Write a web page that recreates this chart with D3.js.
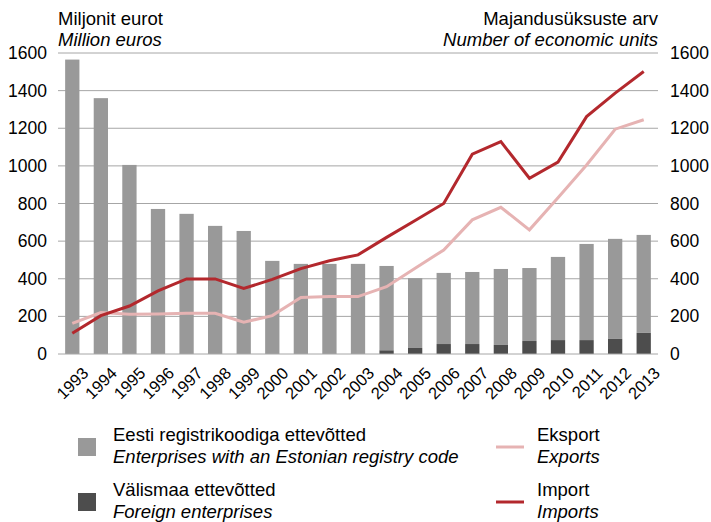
<!DOCTYPE html>
<html>
<head>
<meta charset="utf-8">
<script src="https://cdn.jsdelivr.net/npm/d3@7"></script>
<style>
  body { margin: 0; background: #fff; }
  text { font-family: "Liberation Sans", Arial, sans-serif; fill: #000; }
</style>
</head>
<body>
<div id="chart"></div>
<script>
const years = ['1993','1994','1995','1996','1997','1998','1999','2000','2001','2002','2003',
  '2004','2005','2006','2007','2008','2009','2010','2011','2012','2013'];
// number of economic units
const foreign = [0,0,0,0,0,0,0,0,0,0,0,20,32,53,53,48,69,74,74,80,112];
const estonian = [1565,1360,1005,771,745,681,654,495,479,479,479,448,371,378,383,404,388,442,511,532,521];
// million euros
const exportVals = [163,220,211,213,216,216,169,204,300,305,305,358,456,553,713,780,660,830,1005,1195,1245];
const importVals = [110,204,255,335,399,399,348,397,454,496,527,620,710,800,1062,1129,934,1020,1262,1387,1502];
const yTicks = [0,200,400,600,800,1000,1200,1400,1600];

let w = 711, h = 522;
let mLeft = 58, mRight = 658, mTop = 53, mBottom = 354;

let svg = d3.select('#chart')
  .append('svg')
  .attr('width', w)
  .attr('height', h)

let x = d3.scaleBand().domain(years).range([mLeft, mRight]).paddingInner(0.5).paddingOuter(0.25)
let yL = d3.scaleLinear().domain([0, 1600]).range([mBottom, mTop])
let yR = d3.scaleLinear().domain([0, 1600]).range([mBottom, mTop])

// gridlines
svg.append('g')
  .selectAll('line')
  .data(yTicks.slice(1))
  .join('line')
  .attr('x1', mLeft).attr('x2', mRight)
  .attr('y1', d => yL(d)).attr('y2', d => yL(d))
  .attr('stroke', '#a6a6a6')
  .attr('stroke-width', 1)

// stacked bars
let stack = d3.stack().keys(['foreign', 'estonian'])
let rows = years.map((yr, i) => ({year: yr, foreign: foreign[i], estonian: estonian[i]}))
let colors = {foreign: '#4d4d4d', estonian: '#999999'}
svg.append('g')
  .selectAll('g')
  .data(stack(rows))
  .join('g')
  .attr('fill', d => colors[d.key])
  .selectAll('rect')
  .data(d => d)
  .join('rect')
  .attr('x', d => x(d.data.year))
  .attr('width', x.bandwidth())
  .attr('y', d => yR(d[1]))
  .attr('height', d => yR(d[0]) - yR(d[1]))

// baseline
svg.append('line')
  .attr('x1', mLeft).attr('x2', mRight)
  .attr('y1', mBottom).attr('y2', mBottom)
  .attr('stroke', '#a6a6a6')

let line = d3.line()
  .x((d, i) => x(years[i]) + x.bandwidth() / 2)
  .y(d => yL(d))

svg.append('path')
  .datum(exportVals)
  .attr('d', line)
  .attr('fill', 'none')
  .attr('stroke', '#e6b3b3')
  .attr('stroke-width', 3)

svg.append('path')
  .datum(importVals)
  .attr('d', line)
  .attr('fill', 'none')
  .attr('stroke', '#b3282d')
  .attr('stroke-width', 3)

// left axis
let axL = svg.append('g')
  .attr('transform', `translate(${mLeft},0)`)
  .call(d3.axisLeft(yL).tickValues(yTicks).tickFormat(d3.format('d')).tickSize(0).tickPadding(11))
axL.select('.domain').remove()
axL.selectAll('text').style('font-size', '17.5px').style('font-family', '"Liberation Sans", Arial, sans-serif')

// right axis
let axR = svg.append('g')
  .attr('transform', `translate(${mRight},0)`)
  .call(d3.axisRight(yR).tickValues(yTicks).tickFormat(d3.format('d')).tickSize(0).tickPadding(12))
axR.select('.domain').remove()
axR.selectAll('text').style('font-size', '17.5px').style('font-family', '"Liberation Sans", Arial, sans-serif')

// x labels
svg.append('g')
  .selectAll('text')
  .data(years)
  .join('text')
  .attr('text-anchor', 'end')
  .attr('transform', d => `translate(${x(d) + x.bandwidth() / 2 + 9},${mBottom + 12}) rotate(-45)`)
  .attr('dy', '0.7em')
  .style('font-size', '16.5px')
  .text(d => d)

// axis titles
svg.append('text').attr('x', mLeft).attr('y', 25).style('font-size', '18.5px').text('Miljonit eurot')
svg.append('text').attr('x', mLeft).attr('y', 46).style('font-size', '18.5px').style('font-style', 'italic').text('Million euros')
svg.append('text').attr('x', mRight).attr('y', 25).attr('text-anchor', 'end').style('font-size', '18.5px').text('Majandusüksuste arv')
svg.append('text').attr('x', mRight).attr('y', 46).attr('text-anchor', 'end').style('font-size', '18.5px').style('font-style', 'italic').text('Number of economic units')

// legend
let legend = svg.append('g')
function legendText(xp, yp, txt, italic) {
  legend.append('text')
    .attr('x', xp).attr('y', yp)
    .style('font-size', '18.5px')
    .style('font-style', italic ? 'italic' : 'normal')
    .text(txt)
}
let boxes = [
  {fill: '#999999', y: 438, et: 'Eesti registrikoodiga ettevõtted', en: 'Enterprises with an Estonian registry code'},
  {fill: '#4d4d4d', y: 493, et: 'Välismaa ettevõtted', en: 'Foreign enterprises'}
]
boxes.forEach(b => {
  legend.append('rect').attr('x', 78).attr('y', b.y).attr('width', 18).attr('height', 18).attr('fill', b.fill)
  legendText(113, b.y + 3, b.et, false)
  legendText(113, b.y + 25, b.en, true)
})
let lines = [
  {stroke: '#e6b3b3', y: 447, et: 'Eksport', en: 'Exports'},
  {stroke: '#b3282d', y: 502, et: 'Import', en: 'Imports'}
]
lines.forEach(l => {
  legend.append('line').attr('x1', 496).attr('x2', 524).attr('y1', l.y).attr('y2', l.y)
    .attr('stroke', l.stroke).attr('stroke-width', 3)
  legendText(537, l.y - 6, l.et, false)
  legendText(537, l.y + 16, l.en, true)
})
</script>
</body>
</html>
